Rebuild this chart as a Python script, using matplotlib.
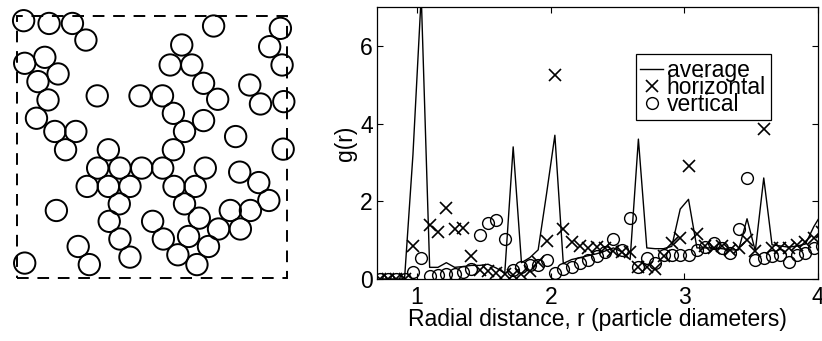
import numpy as np
import matplotlib
matplotlib.use('Agg')
import matplotlib.pyplot as plt
from matplotlib.patches import Circle, Rectangle

plt.rcParams['font.family'] = ['Liberation Sans', 'DejaVu Sans']

# particle centres in the sample window (units: particle diameters)
px = [0.31, 1.50, 2.59, 3.22, 9.19, 12.31, 11.81, 12.39, 7.70, 7.16, 8.17, 8.72,
      9.38, 10.88, 11.38, 12.47, 0.36, 1.30, 1.92, 0.98, 1.45, 0.91, 1.77, 2.75,
      2.27, 3.75, 5.75, 6.80, 7.31, 8.72, 7.83, 10.22, 12.44, 7.31, 4.27, 3.77,
      4.81, 5.83, 6.81, 8.80, 10.41, 3.28, 4.27, 5.28, 7.34, 8.33, 11.30, 11.77,
      4.78, 7.83, 1.84, 9.97, 10.91, 4.31, 6.34, 8.52, 9.42, 10.44, 4.81, 6.84,
      8.02, 8.95, 2.86, 7.52, 5.28, 3.38, 8.41, 0.36]
py = [12.08, 11.95, 11.95, 11.17, 11.83, 11.72, 10.86, 10.00, 10.94, 10.00, 10.00, 9.14,
      8.39, 9.06, 8.17, 8.28, 10.08, 10.36, 9.58, 9.22, 8.36, 7.50, 6.88, 6.88,
      6.02, 8.55, 8.55, 8.55, 7.73, 7.39, 6.88, 6.64, 6.05, 6.02, 6.02, 5.16,
      5.16, 5.16, 5.16, 5.16, 4.97, 4.30, 4.30, 4.30, 4.30, 4.30, 4.48, 3.64,
      3.48, 3.48, 3.17, 3.17, 3.17, 2.66, 2.66, 2.81, 2.30, 2.30, 1.83, 1.83,
      1.95, 1.48, 1.48, 1.09, 0.98, 0.63, 0.63, 0.70]
box_w, box_h = 12.62, 12.3

# radial distribution function
r = [0.719, 0.781, 0.844, 0.906, 0.969, 1.031, 1.094, 1.156, 1.219, 1.281,
     1.344, 1.406, 1.469, 1.531, 1.594, 1.656, 1.719, 1.781, 1.844, 1.906,
     1.969, 2.031, 2.094, 2.156, 2.219, 2.281, 2.344, 2.406, 2.469, 2.531,
     2.594, 2.656, 2.719, 2.781, 2.844, 2.906, 2.969, 3.031, 3.094, 3.156,
     3.219, 3.281, 3.344, 3.406, 3.469, 3.531, 3.594, 3.656, 3.719, 3.781,
     3.844, 3.906, 3.969, 4.031]
g_avg = [0, 0, 0, 0, 3.2, 7.3, 0.3, 0.3, 0.42, 0.3,
         0.32, 0.35, 0.35, 0.38, 0.28, 0.15, 3.4, 0.42, 0.55, 0.75,
         2.2, 3.7, 0.4, 0.5, 0.55, 0.6, 0.65, 0.72, 0.8, 0.7,
         0.5, 3.6, 0.8, 0.78, 0.78, 0.84, 1.8, 2.05, 0.8, 0.8,
         0.8, 0.78, 0.75, 0.75, 1.55, 0.72, 2.6, 0.88, 0.85, 0.82,
         0.85, 0.9, 1.35, 1.7]
g_hor = [0, 0, 0, 0, 0.85, 9.5, 1.4, 1.22, 1.83, 1.28,
         1.3, 0.58, 0.22, 0.2, 0.15, 0.12, 0.1, 0.12, 0.2, 0.45,
         0.99, 5.25, 1.28, 0.94, 0.86, 0.8, 0.83, 0.8, 0.72, 0.7,
         0.7, 0.32, 0.32, 0.27, 0.6, 0.93, 1.05, 2.9, 1.17, 0.85,
         0.8, 0.85, 0.75, 0.8, 1.0, 0.72, 3.85, 0.8, 0.8, 0.8,
         0.88, 0.95, 1.05, 1.2]
g_ver = [0, 0, 0, 0, 0.19, 0.53, 0.08, 0.1, 0.13, 0.13,
         0.17, 0.25, 1.14, 1.45, 1.52, 1.03, 0.22, 0.32, 0.36, 0.36,
         0.5, 0.16, 0.27, 0.32, 0.4, 0.49, 0.58, 0.7, 1.02, 0.75,
         1.56, 0.3, 0.53, 0.4, 0.62, 0.62, 0.62, 0.62, 0.75, 0.83,
         0.92, 0.8, 0.66, 1.28, 2.6, 0.49, 0.53, 0.58, 0.62, 0.45,
         0.62, 0.66, 0.79, 0.85]

fig = plt.figure(figsize=(8.22, 3.41), dpi=100)

# left: particle snapshot
ax0 = fig.add_axes([17/822, 63/341, 270/822, 262/341])
for x, y in zip(px, py):
    ax0.add_patch(Circle((x, y), 0.5, fill=False, ec='black', lw=1.4, clip_on=False))
ax0.add_patch(Rectangle((0, 0), box_w, box_h, fill=False, ec='black', lw=1.4,
                        ls=(0, (6, 4.5)), clip_on=False))
ax0.set_xlim(0, box_w)
ax0.set_ylim(0, box_h)
ax0.axis('off')

# right: g(r)
fs = 16.5
ax = fig.add_axes([377/822, 62/341, 441/822, 272/341])
ax.plot(r, g_avg, '-', color='black', lw=1.0, label='average')
ax.plot(r, g_hor, 'x', color='black', ms=9, mew=1.2, label='horizontal')
ax.plot(r, g_ver, 'o', color='black', mfc='none', ms=8.5, mew=1.0, label='vertical')
ax.set_xlim(0.7, 4)
ax.set_ylim(0, 7)
ax.set_xticks([1, 2, 3, 4])
ax.set_yticks([0, 2, 4, 6])
ax.tick_params(direction='in', length=4, width=0.8, top=True, right=True,
               labelsize=fs, pad=3)
ax.tick_params(axis='x', pad=5)
for s in ax.spines.values():
    s.set_linewidth(0.9)
ax.set_xlabel('Radial distance, r (particle diameters)', fontsize=fs, labelpad=-1)
ax.set_ylabel('g(r)', fontsize=fs, labelpad=2)
leg = ax.legend(loc='upper left', bbox_to_anchor=(0.587, 0.827), borderaxespad=0,
                fontsize=fs, frameon=True, fancybox=False, framealpha=1,
                edgecolor='black', labelspacing=-0.26, handlelength=1.0,
                handletextpad=0.15, borderpad=0.2)
leg.get_frame().set_linewidth(0.9)

fig.savefig('out.png', dpi=100)
